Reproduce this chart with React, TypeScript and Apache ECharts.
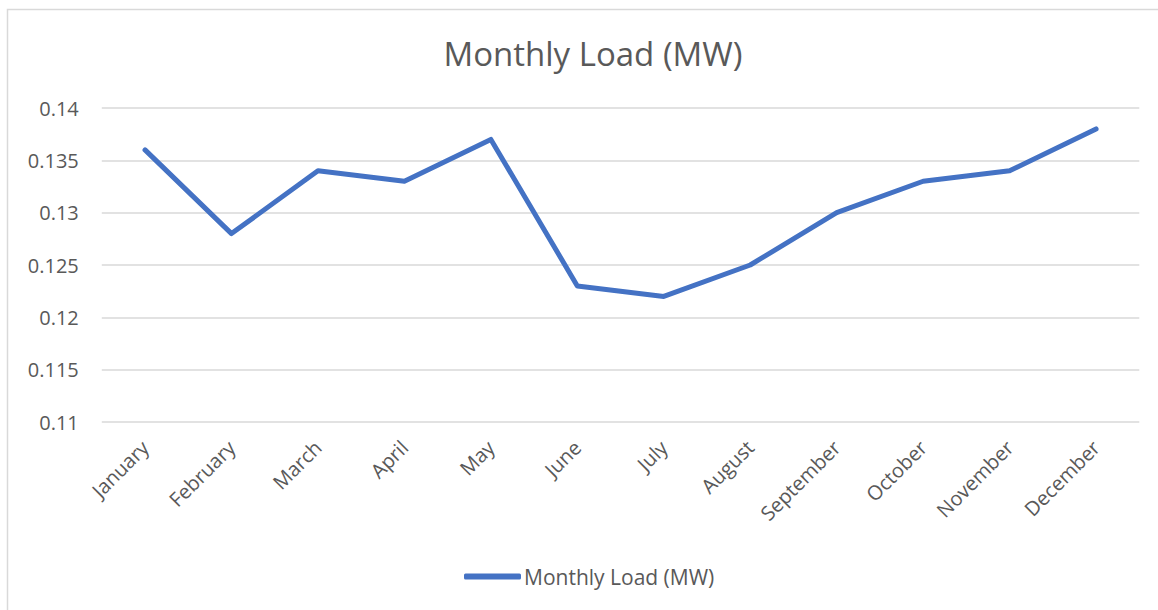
import React, { useEffect, useRef } from "react";
import * as echarts from "echarts";

const categories = ["January", "February", "March", "April", "May", "June", "July", "August", "September", "October", "November", "December"];
const loadValues = [0.136, 0.128, 0.134, 0.133, 0.137, 0.123, 0.122, 0.125, 0.13, 0.133, 0.134, 0.138];
const seriesName = "Monthly Load (MW)";
const chartTitle = "Monthly Load (MW)";

export default function App() {
  const ref = useRef<HTMLDivElement>(null);
  useEffect(() => {
    if (!ref.current) return;
    const chart = echarts.init(ref.current, null, { renderer: "svg" });
    const font = "'Open Sans', sans-serif";
    chart.setOption({
      animation: false,
      backgroundColor: "#ffffff",
      title: {
        text: chartTitle,
        left: 588,
        textAlign: "center",
        top: 32,
        textStyle: { fontFamily: font, fontSize: 33, fontWeight: "normal", color: "#595959" },
      },
      graphic: [
        {
          type: "rect",
          shape: { x: 7.5, y: 9.5, width: 1200, height: 700 },
          style: { fill: "none", stroke: "#d9d9d9", lineWidth: 1.5 },
          silent: true,
          z: -1,
        },
      ],
      legend: {
        left: 459,
        top: 561,
        icon: "roundRect",
        itemWidth: 57,
        itemHeight: 6,
        itemGap: 10,
        textStyle: { fontFamily: font, fontSize: 21, color: "#595959", padding: [0, 0, 0, -2] },
        data: [seriesName],
      },
      grid: { left: 101.8, right: 18.7, top: 108, bottom: 188, containLabel: false },
      xAxis: {
        type: "category",
        data: categories,
        boundaryGap: true,
        axisLine: { show: false },
        axisTick: { show: false },
        axisLabel: { rotate: 45, margin: 22, fontFamily: font, fontSize: 20, color: "#595959", interval: 0 },
      },
      yAxis: {
        type: "value",
        min: 0.11,
        max: 0.14,
        interval: 0.005,
        axisLine: { show: false },
        axisTick: { show: false },
        splitLine: { lineStyle: { color: "#d9d9d9", width: 1.5 } },
        axisLabel: { margin: 23, fontFamily: font, fontSize: 20, color: "#595959", formatter: (v: number) => String(+v.toFixed(3)) },
      },
      series: [
        {
          name: seriesName,
          type: "line",
          data: loadValues,
          showSymbol: false,
          symbol: "none",
          lineStyle: { color: "#4472C4", width: 5, cap: "round", join: "round" },
          itemStyle: { color: "#4472C4" },
        },
      ],
    });
    return () => chart.dispose();
  }, []);
  return <div ref={ref} style={{ position: "fixed", left: 0, top: 0, width: 1158, height: 610 }} />;
}
